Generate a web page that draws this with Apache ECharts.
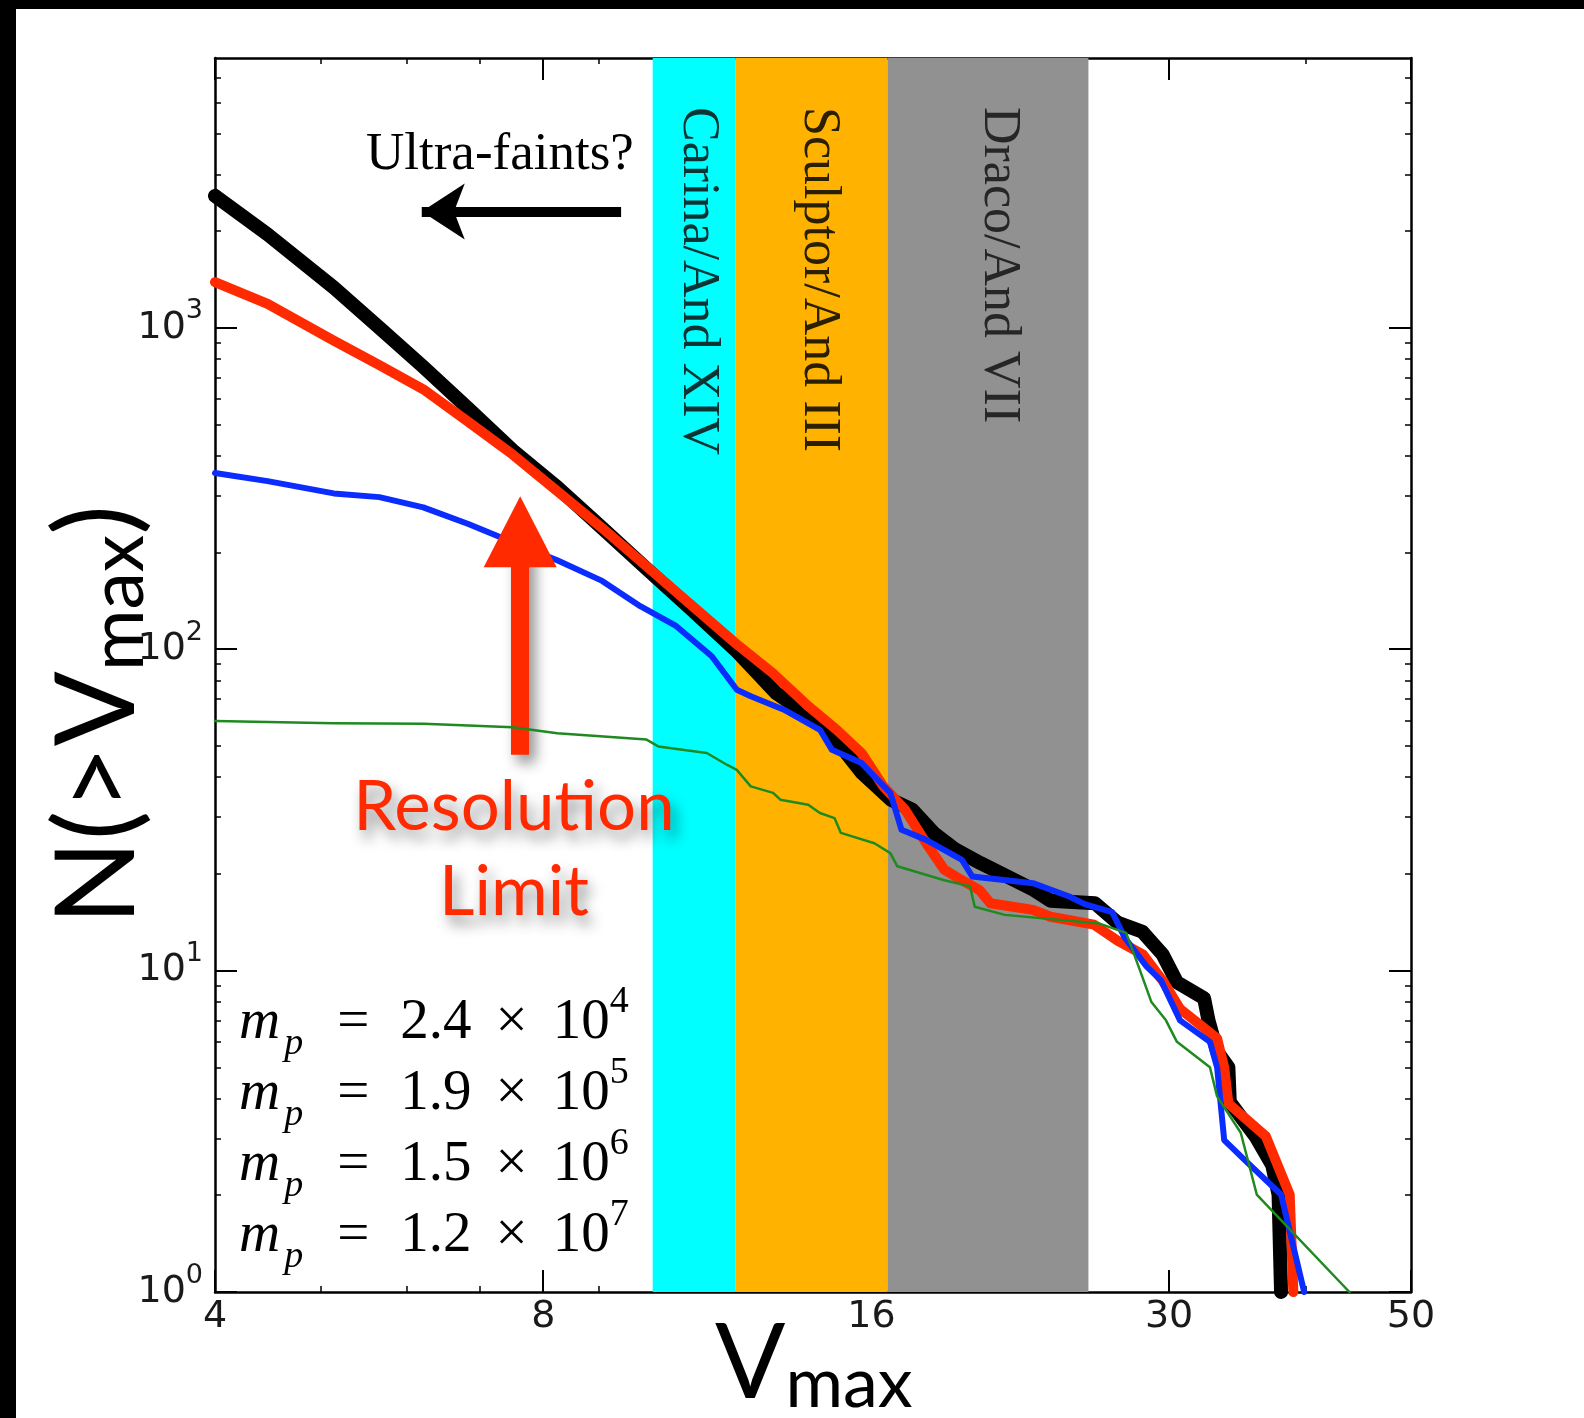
<!DOCTYPE html>
<html>
<head>
<meta charset="utf-8">
<script src="https://cdn.jsdelivr.net/npm/echarts@6/dist/echarts.min.js"></script>
<style>
  html, body { margin: 0; padding: 0; background: #fff; }
  #chart { position: absolute; left: 0; top: 0; width: 1584px; height: 1418px; }
  .edge { position: absolute; background: #000; }
</style>
</head>
<body>
<div id="chart"></div>
<div class="edge" style="left:0;top:0;width:1584px;height:9px"></div>
<div class="edge" style="left:0;top:0;width:16px;height:1418px"></div>
<script>
// Axis ticks
const vmaxTicks = [4, 8, 16, 30, 50];
const vmaxMinorTicks = [5, 6, 7, 9, 20, 40];
const countTicks = [1, 10, 100, 1000];
const countMinorTicks = [2, 3, 4, 5, 6, 7, 8, 9, 20, 30, 40, 50, 60, 70, 80, 90,
  200, 300, 400, 500, 600, 700, 800, 900, 2000, 3000, 4000, 5000, 6000];

// Observed satellite Vmax ranges
const bandNames = ['Carina/And XIV', 'Sculptor/And III', 'Draco/And VII'];
const bandEdges = [10.08, 12, 16.55, 25.3];

// Particle masses of the four runs
const massMantissa = ['2.4', '1.9', '1.5', '1.2'];
const massExponent = [4, 5, 6, 7];

// Cumulative subhalo counts N(>Vmax), pairs of [Vmax, N]
const counts_m24e4 = [[4.0, 2570], [4.47, 1950], [5.14, 1333], [5.66, 1000], [6.21, 755], [6.83, 560],
  [7.5, 415], [8.24, 319], [9.06, 238], [9.95, 178], [10.94, 133], [12.02, 99], [13.08, 73],
  [14.54, 57], [15.68, 41.2], [16.67, 34.0], [17.45, 31.6], [18.25, 26.8], [19.1, 23.8],
  [20.14, 21.6], [22.56, 17.8], [23.35, 16.5], [25.65, 16.2], [26.9, 14.1], [28.36, 13.2],
  [29.6, 11.2], [30.5, 9.2], [32.3, 8.2], [32.6, 7.0], [33.2, 5.6], [34.0, 5.0], [34.1, 3.9],
  [36.0, 3.05], [37.3, 2.48], [37.8, 2.01], [38.0, 1.0]];
const counts_m19e5 = [[4.0, 1385], [4.47, 1186], [5.14, 912], [5.66, 765], [6.21, 643], [6.83, 509],
  [7.5, 403], [8.24, 310], [9.06, 238], [9.95, 181], [10.94, 137], [12.02, 104], [12.99, 84.2],
  [14.01, 66.3], [14.87, 56.1], [15.67, 47.5], [16.41, 37.4], [17.18, 31.6], [17.96, 24.9],
  [18.66, 20.6], [19.37, 19.1], [20.1, 17.8], [20.57, 16.2], [22.5, 15.45], [23.35, 14.7],
  [25.6, 13.9], [26.9, 12.4], [28.4, 11.2], [29.6, 9.3], [30.7, 7.6], [33.2, 6.15], [33.7, 5.0],
  [34.0, 3.86], [36.8, 3.05], [38.7, 2.01], [39.0, 1.0]];
const counts_m15e6 = [[4.0, 353], [4.47, 333], [5.14, 305], [5.66, 297], [6.21, 276], [6.83, 245],
  [7.5, 215], [8.24, 189], [9.06, 163], [9.82, 136], [10.59, 118], [11.42, 95], [12.04, 74.7],
  [12.4, 71.3], [13.3, 64.8], [14.35, 56.1], [14.72, 48.6], [15.67, 44.2], [16.65, 35.7],
  [17.05, 27.4], [17.96, 25.5], [19.37, 22.1], [19.8, 19.6], [22.5, 18.7], [24.3, 17.0],
  [25.1, 16.1], [26.6, 15.2], [27.3, 12.7], [28.6, 10.3], [29.5, 9.3], [30.7, 7.0], [32.7, 6.0],
  [33.2, 5.0], [33.7, 2.97], [35.3, 2.55], [38.0, 2.01], [39.9, 1.0]];
const counts_m12e7 = [[4.0, 59.7], [5.14, 58.8], [6.21, 58.6], [7.5, 57.1], [8.24, 54.7], [9.95, 52.3],
  [10.2, 49.8], [11.3, 47.5], [11.8, 43.6], [12.04, 42.1], [12.4, 37.4], [13.0, 35.7], [13.2, 34.0],
  [14.0, 32.8], [14.35, 30.9], [14.8, 29.8], [15.0, 26.8], [16.1, 24.9], [16.65, 23.2], [16.9, 21.1],
  [18.66, 19.1], [19.7, 18.3], [19.9, 15.8], [21.2, 14.9], [25.9, 14.0], [27.4, 13.1], [28.2, 10.05],
  [28.9, 7.98], [29.8, 7.0], [30.5, 6.0], [32.7, 5.0], [33.2, 4.06], [34.9, 3.13], [36.1, 2.01],
  [43.9, 1.0]];

const runs = [counts_m24e4, counts_m19e5, counts_m15e6, counts_m12e7];
const runColors = ['#000000', '#ff2a00', '#0a2cff', '#1f8a1f'];
const runWidths = [14, 10, 6, 2.5];
const bandColors = ['#00ffff', '#ffb300', '#919191'];
const bandTextColors = ['#0c3434', '#2a2000', '#262626'];
const bandTextShift = [4, 7, 11];

const tickFont = 'DejaVu Sans';
const serifFont = 'Liberation Serif';
const sansFont = 'Lato';

const chart = echarts.init(document.getElementById('chart'), null, { renderer: 'canvas' });

function vAxis(position, values, len, withLabels, main) {
  return {
    type: 'log', logBase: 10, min: 4, max: 50, position: position,
    axisLine: { show: main, onZero: false, lineStyle: { color: '#000', width: 2.5 } },
    axisTick: { show: true, inside: true, length: len, customValues: values,
      lineStyle: { color: '#000', width: main ? 2 : 1.5 } },
    axisLabel: withLabels ? {
      show: true, customValues: values, margin: 6, color: '#1a1a1a',
      fontFamily: tickFont, fontSize: 38, formatter: v => String(v)
    } : { show: false },
    splitLine: { show: false }, minorTick: { show: false }, minorSplitLine: { show: false }
  };
}
function nAxis(position, values, len, withLabels, main) {
  return {
    type: 'log', logBase: 10, min: 1, max: 6900, position: position,
    axisLine: { show: main, onZero: false, lineStyle: { color: '#000', width: 2.5 } },
    axisTick: { show: true, inside: true, length: len, customValues: values,
      lineStyle: { color: '#000', width: main ? 2 : 1.5 } },
    axisLabel: withLabels ? {
      show: true, customValues: values, margin: 12,
      formatter: v => '{b|10}{s|' + Math.round(Math.log10(v)) + '}',
      rich: {
        b: { fontFamily: tickFont, fontSize: 38, color: '#1a1a1a', lineHeight: 60 },
        s: { fontFamily: tickFont, fontSize: 27, color: '#1a1a1a', lineHeight: 28, verticalAlign: 'top' }
      }
    } : { show: false },
    splitLine: { show: false }, minorTick: { show: false }, minorSplitLine: { show: false }
  };
}

const series = [];

// shaded satellite ranges
series.push({
  type: 'line', name: 'bands', data: [], z: -1, silent: true,
  markArea: {
    silent: true,
    data: bandNames.map((name, i) => [
      {
        xAxis: bandEdges[i], name: name,
        itemStyle: { color: bandColors[i], opacity: 1 },
        label: {
          show: true, position: 'insideTop', rotate: -90, distance: 49,
          align: 'left', verticalAlign: 'middle', offset: [0, -bandTextShift[i]],
          fontFamily: serifFont, fontSize: 52, color: bandTextColors[i]
        }
      },
      { xAxis: bandEdges[i + 1] }
    ])
  }
});

runs.forEach((d, i) => {
  series.push({
    type: 'line', name: 'run' + i, data: d, showSymbol: false, symbol: 'none',
    z: 2 + i, silent: true, clip: true,
    lineStyle: { color: runColors[i], width: runWidths[i], join: 'round', cap: 'round' }
  });
});

// arrows
series.push({
  type: 'line', name: 'arrows', data: [], z: 10, silent: true,
  markLine: {
    silent: true, animation: false,
    label: { show: false },
    data: [
      [
        { coord: [9.43, 2298], symbol: 'none',
          lineStyle: { color: '#000', width: 10, type: 'solid' } },
        { coord: [6.19, 2298], symbol: 'arrow', symbolSize: [42, 43] }
      ],
      [
        { coord: [7.62, 46.9], symbol: 'none',
          lineStyle: { color: '#ff2a00', width: 18, type: 'solid',
            shadowColor: 'rgba(0,0,0,0.45)', shadowBlur: 14, shadowOffsetX: 6, shadowOffsetY: 8 } },
        { coord: [7.62, 231.6], symbol: 'triangle', symbolSize: [73, 71] }
      ]
    ]
  }
});

const legendRich = (color) => ({
  m: { fontFamily: serifFont, fontStyle: 'italic', fontSize: 57, color: color, lineHeight: 80 },
  p: { fontFamily: serifFont, fontStyle: 'italic', fontSize: 38, color: color, lineHeight: 50,
       verticalAlign: 'bottom', padding: [0, 0, 0, 4] },
  q: { fontFamily: serifFont, fontSize: 57, color: color, lineHeight: 80, padding: [0, 0, 0, 34] },
  n: { fontFamily: serifFont, fontSize: 57, color: color, lineHeight: 80, padding: [0, 0, 0, 31] },
  x: { fontFamily: serifFont, fontSize: 57, color: color, lineHeight: 80, padding: [0, 0, 0, 24] },
  t: { fontFamily: serifFont, fontSize: 57, color: color, lineHeight: 80, padding: [0, 0, 0, 25] },
  e: { fontFamily: serifFont, fontSize: 38, color: color, lineHeight: 42, verticalAlign: 'top' }
});

const graphics = [];
massMantissa.forEach((mant, i) => {
  graphics.push({
    type: 'text', x: 239, y: 983 + i * 71, silent: true, z: 100,
    style: {
      text: '{m|m}{p|p}{q|=}{n|' + mant + '}{x|×}{t|10}{e|' + massExponent[i] + '}',
      rich: legendRich(runColors[i])
    }
  });
});

graphics.push({
  type: 'text', x: 366, y: 129, silent: true, z: 100,
  style: { text: 'Ultra-faints?', fontFamily: serifFont, fontSize: 53, fill: '#000' }
});

graphics.push({
  type: 'text', x: 514, y: 765, silent: true, z: 100,
  style: {
    text: 'Resolution\nLimit', fontFamily: sansFont, fontSize: 69, lineHeight: 85,
    fill: '#ff2a00', align: 'center',
    textShadowColor: 'rgba(0,0,0,0.45)', textShadowBlur: 14, textShadowOffsetX: 5, textShadowOffsetY: 9
  }
});

// axis titles
const xTitleRich = {
  v: { fontFamily: sansFont, fontSize: 104, fill: '#000', lineHeight: 110 },
  s: { fontFamily: sansFont, fontSize: 70, fill: '#000', lineHeight: 72, verticalAlign: 'bottom' }
};
const yTitleRich = {
  v: { fontFamily: sansFont, fontSize: 111, fill: '#000', lineHeight: 116 },
  s: { fontFamily: sansFont, fontSize: 75, fill: '#000', lineHeight: 76, verticalAlign: 'bottom' }
};
graphics.push({
  type: 'text', x: 715, y: 1309, silent: true, z: 100,
  style: { text: '{v|V}{s|max}', rich: xTitleRich }
});
graphics.push({
  type: 'text', x: 40, y: 925, rotation: Math.PI / 2, silent: true, z: 100,
  style: { text: '{v|N(>V}{s|max}{v|)}', rich: yTitleRich }
});

chart.setOption({
  animation: false,
  backgroundColor: '#ffffff',
  grid: { left: 215, right: 173, top: 58, bottom: 126, containLabel: false },
  xAxis: [
    vAxis('bottom', vmaxTicks, 22, true, true),
    vAxis('bottom', vmaxMinorTicks, 6, false, false),
    vAxis('top', vmaxTicks, 22, false, true),
    vAxis('top', vmaxMinorTicks, 6, false, false)
  ],
  yAxis: [
    nAxis('left', countTicks, 22, true, true),
    nAxis('left', countMinorTicks, 6, false, false),
    nAxis('right', countTicks, 22, false, true),
    nAxis('right', countMinorTicks, 6, false, false)
  ],
  series: series,
  graphic: graphics
});
</script>
</body>
</html>
